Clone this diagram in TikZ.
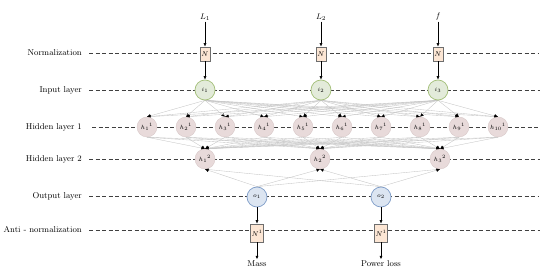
\documentclass[tikz,border=0pt]{standalone}
\usepackage{tikz}
\usetikzlibrary{arrows.meta, positioning, backgrounds}

\definecolor{normfill}{HTML}{FCE6D4}
\definecolor{boxline}{HTML}{6E6E6E}
\definecolor{infill}{HTML}{E3EBDA}
\definecolor{inline}{HTML}{A3BF78}
\definecolor{hidfill}{HTML}{E8DADA}
\definecolor{hidline}{HTML}{D8C8C8}
\definecolor{outfill}{HTML}{DCE5F1}
\definecolor{outline}{HTML}{7E9CC8}
\definecolor{sepgray}{HTML}{404040}
\definecolor{linkgray}{HTML}{C4C4C4}

\begin{document}
\begin{tikzpicture}[x=1pt, y=-1pt,
  layer/.style={font=\fontsize{8.5}{10}\selectfont, anchor=east, inner sep=1pt},
  normbox/.style={draw=boxline, fill=normfill, line width=0.7pt, minimum width=10pt, minimum height=14pt, inner sep=0pt, font=\fontsize{7}{8}\selectfont},
  antibox/.style={normbox, minimum width=13pt, minimum height=18pt},
  inode/.style={circle, draw=inline, fill=infill, line width=0.7pt, minimum size=20pt, inner sep=0pt, font=\fontsize{6.5}{7}\selectfont},
  hnode/.style={circle, draw=hidline, fill=hidfill, line width=0.4pt, minimum size=20pt, inner sep=0pt, font=\fontsize{6}{6.5}\selectfont},
  onode/.style={circle, draw=outline, fill=outfill, line width=0.7pt, minimum size=20pt, inner sep=0pt, font=\fontsize{6.5}{7}\selectfont},
  sep/.style={dash pattern=on 4pt off 2.5pt, line width=0.8pt, draw=sepgray},
  link/.style={draw=linkgray, line width=0.35pt, -{Latex[black, length=3.5pt, width=3.5pt]}},
  flow/.style={draw=black, line width=0.5pt, -{Latex[length=3.5pt, width=3pt]}},
  word/.style={font=\fontsize{8.5}{10}\selectfont, inner sep=1pt}
]
\useasboundingbox (0,0) rectangle (550,278);

% layer names
\node[layer] (lnorm) at (83,53)  {Normalization};
\node[layer] (lin)   at (83,90)  {Input layer};
\node[layer] (lh1)   at (83,127) {Hidden layer 1};
\node[layer] (lh2)   at (83,159) {Hidden layer 2};
\node[layer] (lout)  at (83,196) {Output layer};
\node[layer] (lanti) at (83,230) {Anti - normalization};

% normalization and input layer
\node[normbox] (n1) at (205,54) {$N$};
\node[normbox] (n2) at (321,54) {$N$};
\node[normbox] (n3) at (438,54) {$N$};
\node[word, above=25pt of n1] (x1) {$L_1$};
\node[word, above=25pt of n2] (x2) {$L_2$};
\node[word, above=25pt of n3] (x3) {$f$};
\node[inode] (i1) at (205,90) {$i_1$};
\node[inode] (i2) at (321,90) {$i_2$};
\node[inode] (i3) at (438,90) {$i_3$};

% hidden layers
\foreach \k in {1,...,10}
  \node[hnode] (ha\k) at (108+39*\k,127) {$h_{\k}{}^{1}$};
\node[hnode] (hb1) at (205,159) {$h_1{}^2$};
\node[hnode] (hb2) at (320,159) {$h_2{}^2$};
\node[hnode] (hb3) at (440,159) {$h_3{}^2$};

% output and anti-normalization
\node[onode] (o1) at (257,197) {$o_1$};
\node[onode] (o2) at (381,197) {$o_2$};
\node[antibox] (m1) at (257,233) {$N^{1}$};
\node[antibox] (m2) at (381,233) {$N^{1}$};
\node[word, below=17pt of m1] (y1) {Mass};
\node[word, below=17pt of m2] (y2) {Power loss};

\coordinate (enorm) at (538,53);
\coordinate (ein)   at (540,90);
\coordinate (eh1)   at (540,127);
\coordinate (eh2)   at (540,159);
\coordinate (eout)  at (538,196);
\coordinate (eanti) at (540,230);

\begin{scope}[on background layer]
\draw[sep] ([xshift=6pt]lnorm.east) -- (enorm);
\draw[sep] ([xshift=6pt]lin.east)   -- (ein);
\draw[sep] ([xshift=9pt]lh1.east)   -- (eh1);
\draw[sep] ([xshift=6pt]lh2.east)   -- (eh2);
\draw[sep] ([xshift=6pt]lout.east)  -- (eout);
\draw[sep] ([xshift=6pt]lanti.east) -- (eanti);

\foreach \a in {1,2,3}
  \foreach \k in {1,...,10}
    \draw[link] (i\a.south) -- (ha\k.north);
\foreach \k in {1,...,10}
  \foreach \b in {1,2,3}
    \draw[link] (ha\k.south) -- (hb\b.north);
\foreach \c in {1,2}
  \foreach \b in {1,2,3}
    \draw[link] (o\c.north) -- (hb\b.south);
\end{scope}

\foreach \a in {1,2,3} {
  \draw[flow] (x\a) -- (n\a);
  \draw[flow] (n\a) -- (i\a);
}
\foreach \c in {1,2} {
  \draw[flow] (o\c) -- (m\c);
  \draw[flow] (m\c) -- (y\c);
}
\end{tikzpicture}
\end{document}
